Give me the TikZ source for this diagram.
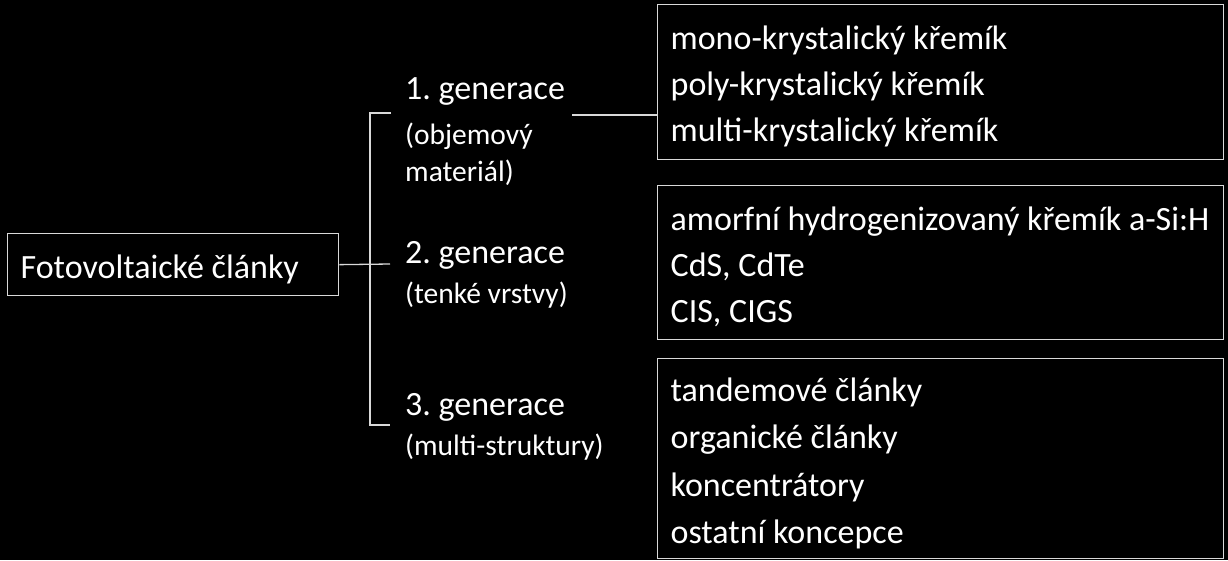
\documentclass[tikz,border=0pt]{standalone}
\usepackage{fontspec}
\setmainfont{Carlito}
\usetikzlibrary{positioning}
\definecolor{linegray}{gray}{0.85}
\newcommand{\bigtext}{\fontsize{34}{46}\selectfont}
\newcommand{\gentext}{\fontsize{34}{40}\selectfont}
\newcommand{\smalltext}{\fontsize{29.5}{40}\selectfont}
\frenchspacing
\begin{document}
\begin{tikzpicture}[x=1pt,y=-1pt,
    box/.style={draw=linegray,line width=1.3pt,text=white,align=flush left,inner xsep=13pt,
      text width=540pt,minimum width=566pt,anchor=north west,font=\bigtext,
      execute at begin node={\rule{0pt}{33pt}}},
    gen/.style={text=white,align=left,inner sep=0pt,anchor=north west,font=\smalltext},
    link/.style={draw=linegray,line width=1.3pt}]
  \fill[black] (0,0) rectangle (1228,560);
  \useasboundingbox (0,0) rectangle (1228,560);
  % root
  \node[box,minimum width=331pt,minimum height=62pt,text width=305pt] (fv) at (7,233) {Fotovoltaické články};
  % generations
  \node[gen] (gen1) at (405,77) {{\gentext 1. generace}\\[5pt](objemový\\[-3pt]materiál)};
  \node[gen] (gen2) at (405,241) {{\gentext 2. generace}\\(tenké vrstvy)};
  \node[gen] (gen3) at (405,393) {{\gentext 3. generace}\\(multi-struktury)};
  % materials
  \node[box,minimum height=155pt] (mat1) at (657,4)
    {mono-krystalický křemík\\poly-krystalický křemík\\multi-krystalický křemík};
  \node[box,minimum height=154pt] (mat2) at (657,185)
    {amorfní hydrogenizovaný křemík a-Si:H\\CdS, CdTe\\CIS, CIGS};
  \node[box,font=\fontsize{34}{47.5}\selectfont,minimum height=200pt] (mat3) at (657,358)
    {tandemové články\\organické články\\koncentrátory\\ostatní koncepce};
  % bracket
  \coordinate (top) at (391,113);
  \coordinate (mid) at (390,264);
  \coordinate (bot) at (390,425);
  \coordinate (g1out) at (572,115);
  \draw[link] (top) -- (370,113) -- (370,425) -- (bot);
  \draw[link] (fv.east) -- (mid);
  \draw[link] (g1out) -- (g1out -| mat1.west);
\end{tikzpicture}
\end{document}
